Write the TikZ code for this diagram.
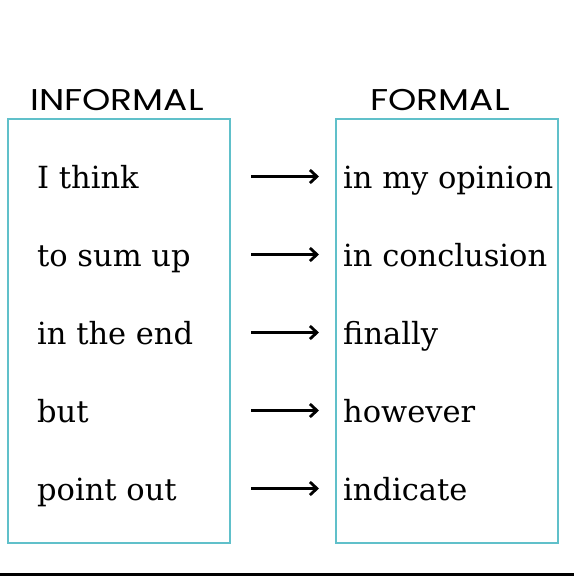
\documentclass[tikz,border=0pt]{standalone}
\usepackage{fontspec}
\setmainfont{DejaVu Serif}
\newfontfamily\titulofont{Poppins}
\usetikzlibrary{calc}
\usetikzlibrary{arrows.meta}
\definecolor{caixa}{RGB}{96,192,202}

\begin{document}
\begin{tikzpicture}[x=1pt, y=-1pt]

  %--------------------------------------------
  % Area total da figura (margens incluidas)
  %--------------------------------------------
  \useasboundingbox (0,0) rectangle (574,576);
  \fill[black] (0,573) rectangle (574,576);

  %--------------------------------------------
  % Caixas das duas colunas
  %--------------------------------------------
  \draw[caixa, line width=2pt] (8,119) rectangle (230,543);
  \draw[caixa, line width=2pt] (336,119) rectangle (558,543);

  %--------------------------------------------
  % Titulos das colunas (letra alargada)
  %--------------------------------------------
  \node[anchor=base, inner sep=0pt] (informal) at (117,110)
    {\scalebox{1.2}[1]{\titulofont\fontsize{30}{32}\selectfont INFORMAL}};
  \node[anchor=base, inner sep=0pt] (formal) at (440,110)
    {\scalebox{1.2}[1]{\titulofont\fontsize{30}{32}\selectfont FORMAL}};

  %--------------------------------------------
  % Laco para as linhas da tabela
  % Cada trio (i/a/b) indica:
  %   i -> indice da linha
  %   a -> expressao informal
  %   b -> expressao formal
  %--------------------------------------------
  \foreach \i/\a/\b in {0/I think/in my opinion, 1/to sum up/in conclusion,
                        2/in the end/finally, 3/but/however, 4/point out/indicate}
  {
    % Expressao informal (coluna esquerda)
    \node[anchor=base west, inner sep=0pt] (inf\i) at (37, 188 + 78*\i)
      {\fontsize{30.5}{32}\selectfont \a};

    % Expressao formal (coluna direita)
    \node[anchor=base west, inner sep=0pt] (for\i) at (343, 188 + 78*\i)
      {\fontsize{30.5}{32}\selectfont \b};

    % Pontos de inicio e fim da seta
    \coordinate (ini\i) at (251, 176.5 + 78*\i);
    \coordinate (fim\i) at (319, 176.5 + 78*\i);

    % Seta entre as duas expressoes
    \draw[-{Straight Barb[length=7pt, width=13pt]}, line width=2.8pt]
      (ini\i) -- (fim\i);
  }

\end{tikzpicture}
\end{document}
